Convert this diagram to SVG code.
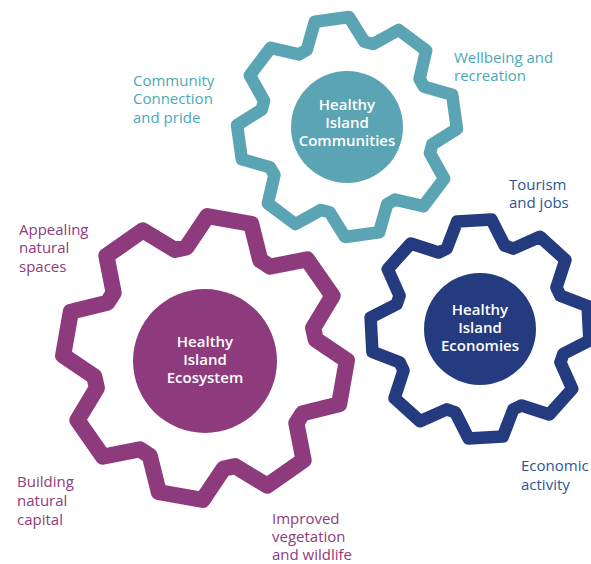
<svg xmlns="http://www.w3.org/2000/svg" xmlns:xlink="http://www.w3.org/1999/xlink" width="591" height="564" viewBox="0 0 591 564">
<style>
.gear{fill:none;stroke-width:12.5;stroke-linejoin:round}
.lbl{font-family:"Open Sans","Noto Sans","Liberation Sans",sans-serif;font-size:15px}
.ctr{font-family:"Open Sans","Noto Sans","Liberation Sans",sans-serif;font-size:15px;font-weight:600;fill:#ffffff;text-anchor:middle}
.teal{fill:#4BA9B6}
.purp{fill:#8E3B7E}
.blue{fill:#2A5696}
</style>
<defs>
<path id="g" d="M-29.04,-82.01 L-17.21,-108.65 L17.21,-108.65 L29.04,-82.01 L37.46,-78.52 L64.66,-89.00 L89.00,-64.66 L78.52,-37.46 L82.01,-29.04 L108.65,-17.21 L108.65,17.21 L82.01,29.04 L78.52,37.46 L89.00,64.66 L64.66,89.00 L37.46,78.52 L29.04,82.01 L17.21,108.65 L-17.21,108.65 L-29.04,82.01 L-37.46,78.52 L-64.66,89.00 L-89.00,64.66 L-78.52,37.46 L-82.01,29.04 L-108.65,17.21 L-108.65,-17.21 L-82.01,-29.04 L-78.52,-37.46 L-89.00,-64.66 L-64.66,-89.00 L-37.46,-78.52 Z"/>
</defs>
<g id="connectors"></g>
<g id="communities">
<use xlink:href="#g" href="#g" class="gear" stroke="#5BA4B4" transform="translate(347,127) rotate(-8)"/>
<circle cx="347" cy="127" r="56" fill="#5BA4B4"/>
<text class="ctr"><tspan x="347" y="110">Healthy</tspan><tspan x="347" y="128">Island</tspan><tspan x="347" y="146">Communities</tspan></text>
</g>
<g id="economies">
<use xlink:href="#g" href="#g" class="gear" stroke="#243B7F" transform="translate(480,329) rotate(-3)"/>
<circle cx="480" cy="329" r="56" fill="#243B7F"/>
<text class="ctr"><tspan x="480" y="315">Healthy</tspan><tspan x="480" y="333">Island</tspan><tspan x="480" y="351">Economies</tspan></text>
</g>
<g id="ecosystem">
<use xlink:href="#g" href="#g" class="gear" stroke="#8E3B7E" transform="translate(205,358) scale(1.29) rotate(10)"/>
<circle cx="205" cy="361" r="72" fill="#8E3B7E"/>
<text class="ctr"><tspan x="205" y="347">Healthy</tspan><tspan x="205" y="365">Island</tspan><tspan x="205" y="383">Ecosystem</tspan></text>
</g>
<g id="labels">
<text class="lbl teal"><tspan x="133" y="86">Community</tspan><tspan x="133" y="104">Connection</tspan><tspan x="133" y="123">and pride</tspan></text>
<text class="lbl teal"><tspan x="454" y="63">Wellbeing and</tspan><tspan x="454" y="81">recreation</tspan></text>
<text class="lbl blue"><tspan x="509" y="190">Tourism</tspan><tspan x="509" y="208">and jobs</tspan></text>
<text class="lbl blue"><tspan x="521" y="471">Economic</tspan><tspan x="521" y="490">activity</tspan></text>
<text class="lbl purp"><tspan x="19" y="235">Appealing</tspan><tspan x="19" y="253">natural</tspan><tspan x="19" y="272">spaces</tspan></text>
<text class="lbl purp"><tspan x="17" y="487">Building</tspan><tspan x="17" y="506">natural</tspan><tspan x="17" y="525">capital</tspan></text>
<text class="lbl purp"><tspan x="272" y="524">Improved</tspan><tspan x="272" y="542">vegetation</tspan><tspan x="272" y="560">and wildlife</tspan></text>
</g>
</svg>
